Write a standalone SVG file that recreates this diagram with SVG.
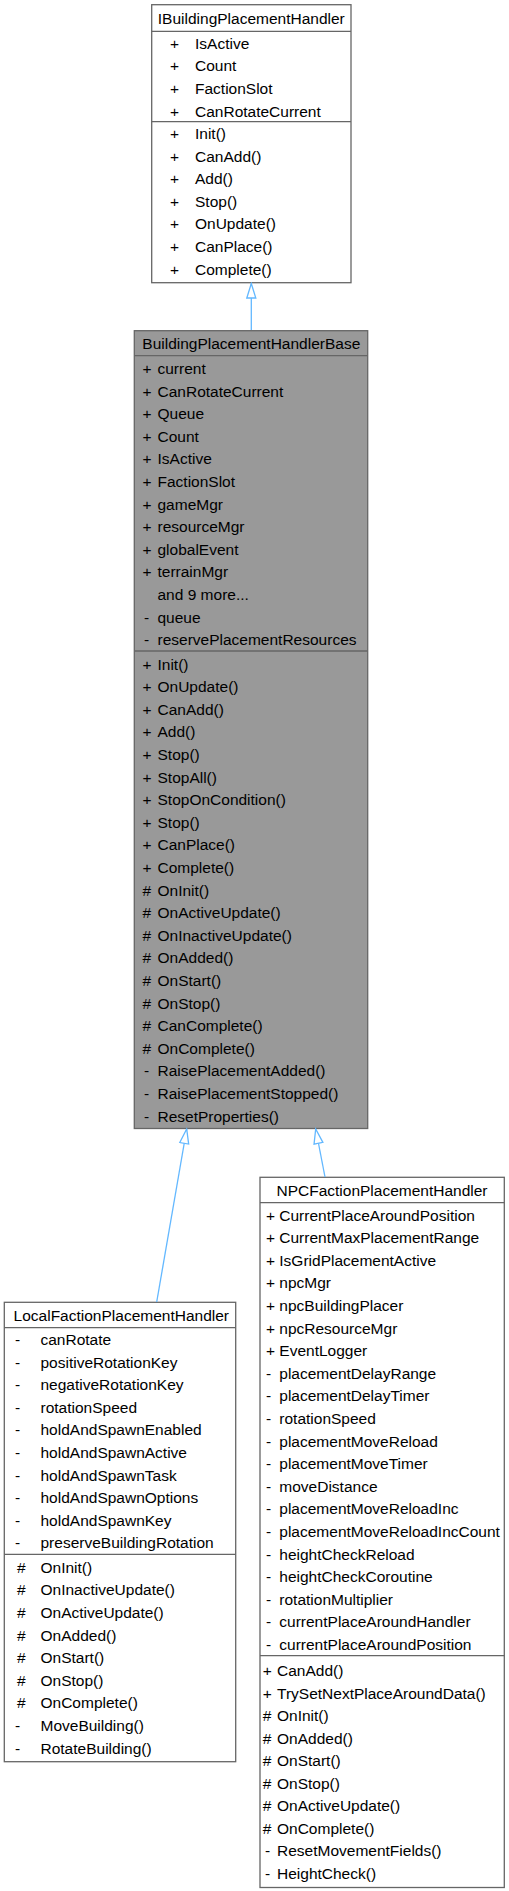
<svg xmlns="http://www.w3.org/2000/svg" width="509" height="1891" viewBox="0 0 509 1891">
<style>
text{font-family:"Liberation Sans",Arial,sans-serif;font-size:15.5px;fill:#000}
.t{text-anchor:middle}
.box{fill:#fff;stroke:#666;stroke-width:1.3}
.gbox{fill:#999;stroke:#666;stroke-width:1.3}
.div{stroke:#666;stroke-width:1.3;fill:none}
.edge{stroke:#63B8FF;stroke-width:1.3;fill:none}
</style>
<defs>
<marker id="inh" markerUnits="userSpaceOnUse" viewBox="-1 -1 17 12" refX="14.5" refY="5" markerWidth="17" markerHeight="12" orient="auto">
<path d="M0,0.5 L14.5,5 L0,9.5 Z" fill="#fff" stroke="#63B8FF" stroke-width="1.3"/>
</marker>
</defs>
<rect width="509" height="1891" fill="#fff"/>

<g id="IBuildingPlacementHandler">
<rect class="box" x="151.7" y="4.7" width="199.3" height="278"/>
<line class="div" x1="151.7" y1="31.3" x2="351" y2="31.3"/>
<line class="div" x1="151.7" y1="121.7" x2="351" y2="121.7"/>
<text class="t" x="251.3" y="24">IBuildingPlacementHandler</text>
<text x="170" y="48.8">+<tspan x="195">IsActive</tspan></text>
<text x="170" y="71.4">+<tspan x="195">Count</tspan></text>
<text x="170" y="94">+<tspan x="195">FactionSlot</tspan></text>
<text x="170" y="116.6">+<tspan x="195">CanRotateCurrent</tspan></text>
<text x="170" y="139">+<tspan x="195">Init()</tspan></text>
<text x="170" y="161.6">+<tspan x="195">CanAdd()</tspan></text>
<text x="170" y="184.2">+<tspan x="195">Add()</tspan></text>
<text x="170" y="206.8">+<tspan x="195">Stop()</tspan></text>
<text x="170" y="229.4">+<tspan x="195">OnUpdate()</tspan></text>
<text x="170" y="252">+<tspan x="195">CanPlace()</tspan></text>
<text x="170" y="274.6">+<tspan x="195">Complete()</tspan></text>
</g>

<g id="BuildingPlacementHandlerBase">
<rect class="gbox" x="134.3" y="330.7" width="233.4" height="797.8"/>
<line class="div" x1="134.3" y1="355.7" x2="367.7" y2="355.7"/>
<line class="div" x1="134.3" y1="651" x2="367.7" y2="651"/>
<text class="t" x="251.3" y="349">BuildingPlacementHandlerBase</text>
<text x="142.5" y="374">+<tspan x="157.5">current</tspan></text>
<text x="142.5" y="396.6">+<tspan x="157.5">CanRotateCurrent</tspan></text>
<text x="142.5" y="419.2">+<tspan x="157.5">Queue</tspan></text>
<text x="142.5" y="441.8">+<tspan x="157.5">Count</tspan></text>
<text x="142.5" y="464.4">+<tspan x="157.5">IsActive</tspan></text>
<text x="142.5" y="487">+<tspan x="157.5">FactionSlot</tspan></text>
<text x="142.5" y="509.6">+<tspan x="157.5">gameMgr</tspan></text>
<text x="142.5" y="532.2">+<tspan x="157.5">resourceMgr</tspan></text>
<text x="142.5" y="554.8">+<tspan x="157.5">globalEvent</tspan></text>
<text x="142.5" y="577.4">+<tspan x="157.5">terrainMgr</tspan></text>
<text x="157.5" y="600">and 9 more...</text>
<text x="144" y="622.6">-<tspan x="157.5">queue</tspan></text>
<text x="144" y="645.2">-<tspan x="157.5">reservePlacementResources</tspan></text>
<text x="142.5" y="669.5">+<tspan x="157.5">Init()</tspan></text>
<text x="142.5" y="692.1">+<tspan x="157.5">OnUpdate()</tspan></text>
<text x="142.5" y="714.7">+<tspan x="157.5">CanAdd()</tspan></text>
<text x="142.5" y="737.3">+<tspan x="157.5">Add()</tspan></text>
<text x="142.5" y="759.9">+<tspan x="157.5">Stop()</tspan></text>
<text x="142.5" y="782.5">+<tspan x="157.5">StopAll()</tspan></text>
<text x="142.5" y="805.1">+<tspan x="157.5">StopOnCondition()</tspan></text>
<text x="142.5" y="827.7">+<tspan x="157.5">Stop()</tspan></text>
<text x="142.5" y="850.3">+<tspan x="157.5">CanPlace()</tspan></text>
<text x="142.5" y="872.9">+<tspan x="157.5">Complete()</tspan></text>
<text x="142.5" y="895.5">#<tspan x="157.5">OnInit()</tspan></text>
<text x="142.5" y="918.1">#<tspan x="157.5">OnActiveUpdate()</tspan></text>
<text x="142.5" y="940.7">#<tspan x="157.5">OnInactiveUpdate()</tspan></text>
<text x="142.5" y="963.3">#<tspan x="157.5">OnAdded()</tspan></text>
<text x="142.5" y="985.9">#<tspan x="157.5">OnStart()</tspan></text>
<text x="142.5" y="1008.5">#<tspan x="157.5">OnStop()</tspan></text>
<text x="142.5" y="1031.1">#<tspan x="157.5">CanComplete()</tspan></text>
<text x="142.5" y="1053.7">#<tspan x="157.5">OnComplete()</tspan></text>
<text x="144" y="1076.3">-<tspan x="157.5">RaisePlacementAdded()</tspan></text>
<text x="144" y="1098.9">-<tspan x="157.5">RaisePlacementStopped()</tspan></text>
<text x="144" y="1121.5">-<tspan x="157.5">ResetProperties()</tspan></text>
</g>

<g id="LocalFactionPlacementHandler">
<rect class="box" x="4.3" y="1302.3" width="231.4" height="459.4"/>
<line class="div" x1="4.3" y1="1327.7" x2="235.7" y2="1327.7"/>
<line class="div" x1="4.3" y1="1554.3" x2="235.7" y2="1554.3"/>
<text class="t" x="121.3" y="1320.5">LocalFactionPlacementHandler</text>
<text x="15" y="1345">-<tspan x="40.5">canRotate</tspan></text>
<text x="15" y="1367.6">-<tspan x="40.5">positiveRotationKey</tspan></text>
<text x="15" y="1390.2">-<tspan x="40.5">negativeRotationKey</tspan></text>
<text x="15" y="1412.8">-<tspan x="40.5">rotationSpeed</tspan></text>
<text x="15" y="1435.4">-<tspan x="40.5">holdAndSpawnEnabled</tspan></text>
<text x="15" y="1458">-<tspan x="40.5">holdAndSpawnActive</tspan></text>
<text x="15" y="1480.6">-<tspan x="40.5">holdAndSpawnTask</tspan></text>
<text x="15" y="1503.2">-<tspan x="40.5">holdAndSpawnOptions</tspan></text>
<text x="15" y="1525.8">-<tspan x="40.5">holdAndSpawnKey</tspan></text>
<text x="15" y="1548.4">-<tspan x="40.5">preserveBuildingRotation</tspan></text>
<text x="17" y="1572.8">#<tspan x="40.5">OnInit()</tspan></text>
<text x="17" y="1595.4">#<tspan x="40.5">OnInactiveUpdate()</tspan></text>
<text x="17" y="1618">#<tspan x="40.5">OnActiveUpdate()</tspan></text>
<text x="17" y="1640.6">#<tspan x="40.5">OnAdded()</tspan></text>
<text x="17" y="1663.2">#<tspan x="40.5">OnStart()</tspan></text>
<text x="17" y="1685.8">#<tspan x="40.5">OnStop()</tspan></text>
<text x="17" y="1708.4">#<tspan x="40.5">OnComplete()</tspan></text>
<text x="15" y="1731">-<tspan x="40.5">MoveBuilding()</tspan></text>
<text x="15" y="1753.6">-<tspan x="40.5">RotateBuilding()</tspan></text>
</g>

<g id="NPCFactionPlacementHandler">
<rect class="box" x="260" y="1177.3" width="244.3" height="710.2"/>
<line class="div" x1="260" y1="1202.7" x2="504.3" y2="1202.7"/>
<line class="div" x1="260" y1="1655.7" x2="504.3" y2="1655.7"/>
<text class="t" x="382" y="1195.5">NPCFactionPlacementHandler</text>
<text x="266" y="1220.5">+<tspan x="279.3">CurrentPlaceAroundPosition</tspan></text>
<text x="266" y="1243.1">+<tspan x="279.3">CurrentMaxPlacementRange</tspan></text>
<text x="266" y="1265.7">+<tspan x="279.3">IsGridPlacementActive</tspan></text>
<text x="266" y="1288.3">+<tspan x="279.3">npcMgr</tspan></text>
<text x="266" y="1310.9">+<tspan x="279.3">npcBuildingPlacer</tspan></text>
<text x="266" y="1333.5">+<tspan x="279.3">npcResourceMgr</tspan></text>
<text x="266" y="1356.1">+<tspan x="279.3">EventLogger</tspan></text>
<text x="266" y="1378.7">-<tspan x="279.3">placementDelayRange</tspan></text>
<text x="266" y="1401.3">-<tspan x="279.3">placementDelayTimer</tspan></text>
<text x="266" y="1423.9">-<tspan x="279.3">rotationSpeed</tspan></text>
<text x="266" y="1446.5">-<tspan x="279.3">placementMoveReload</tspan></text>
<text x="266" y="1469.1">-<tspan x="279.3">placementMoveTimer</tspan></text>
<text x="266" y="1491.7">-<tspan x="279.3">moveDistance</tspan></text>
<text x="266" y="1514.3">-<tspan x="279.3">placementMoveReloadInc</tspan></text>
<text x="266" y="1536.9">-<tspan x="279.3">placementMoveReloadIncCount</tspan></text>
<text x="266" y="1559.5">-<tspan x="279.3">heightCheckReload</tspan></text>
<text x="266" y="1582.1">-<tspan x="279.3">heightCheckCoroutine</tspan></text>
<text x="266" y="1604.7">-<tspan x="279.3">rotationMultiplier</tspan></text>
<text x="266" y="1627.3">-<tspan x="279.3">currentPlaceAroundHandler</tspan></text>
<text x="266" y="1649.9">-<tspan x="279.3">currentPlaceAroundPosition</tspan></text>
<text x="262.7" y="1676">+<tspan x="277">CanAdd()</tspan></text>
<text x="262.7" y="1698.5">+<tspan x="277">TrySetNextPlaceAroundData()</tspan></text>
<text x="262.7" y="1721">#<tspan x="277">OnInit()</tspan></text>
<text x="262.7" y="1743.5">#<tspan x="277">OnAdded()</tspan></text>
<text x="262.7" y="1766">#<tspan x="277">OnStart()</tspan></text>
<text x="262.7" y="1788.5">#<tspan x="277">OnStop()</tspan></text>
<text x="262.7" y="1811">#<tspan x="277">OnActiveUpdate()</tspan></text>
<text x="262.7" y="1833.5">#<tspan x="277">OnComplete()</tspan></text>
<text x="265" y="1856">-<tspan x="277">ResetMovementFields()</tspan></text>
<text x="265" y="1878.5">-<tspan x="277">HeightCheck()</tspan></text>
</g>

<g id="connectors">
<path class="edge" d="M251.3,330 L251.3,283.5" marker-end="url(#inh)"/>
<path class="edge" d="M156.7,1302 L186.7,1129" marker-end="url(#inh)"/>
<path class="edge" d="M325,1177 L315.7,1129" marker-end="url(#inh)"/>
</g>
</svg>
